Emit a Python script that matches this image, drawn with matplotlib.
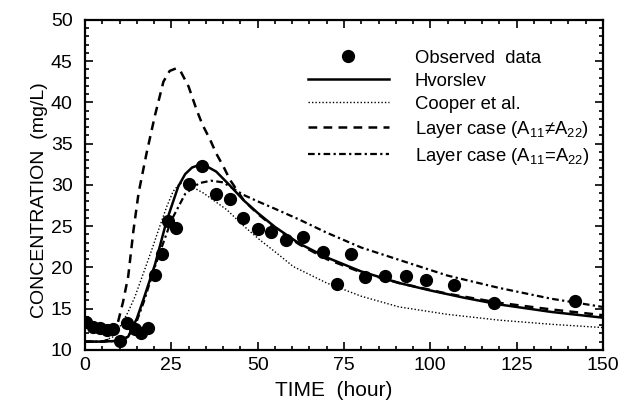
import matplotlib

matplotlib.use("Agg")
import matplotlib.pyplot as plt
from matplotlib.ticker import MultipleLocator

plt.rcParams["font.family"] = ["Liberation Sans", "DejaVu Sans"]
plt.rcParams["mathtext.fontset"] = "custom"
plt.rcParams["mathtext.rm"] = "Liberation Sans"
plt.rcParams["mathtext.it"] = "Liberation Sans"

# observed concentrations
obs_t = [0.3, 2.3, 4.3, 6.4, 8.1, 10.1, 12.1, 14.5, 16.2, 18.2,
         20.3, 22.2, 24.1, 26.2, 30.2, 34.0, 37.9, 42.0, 45.8, 50.0,
         54.0, 58.1, 63.0, 69.0, 72.9, 77.0, 81.1, 87.0, 93.1, 98.9,
         106.9, 118.5, 141.9]
obs_c = [13.4, 12.8, 12.7, 12.4, 12.5, 11.1, 13.2, 12.5, 12.1, 12.7,
         19.1, 21.6, 25.6, 24.8, 30.1, 32.3, 28.9, 28.3, 26.0, 24.7,
         24.3, 23.3, 23.7, 21.8, 18.0, 21.6, 18.8, 18.9, 18.9, 18.5,
         17.9, 15.7, 15.9]

# Hvorslev model
hv_t = [0, 5, 10, 12.5, 15, 16.9, 20.3, 23.6, 27, 29, 31, 33, 35, 38,
        42, 46, 50, 55, 62, 70, 80, 91, 100, 110, 120, 135, 150]
hv_c = [11, 11, 11.1, 11.6, 13.8, 16.1, 20.4, 25.6, 29.8, 31.3, 32.1, 32.4,
        32.3, 31.6, 29.9, 28.1, 26.6, 24.9, 22.9, 21.2, 19.5, 18.1, 17.2,
        16.3, 15.5, 14.6, 13.9]

# Cooper et al. model
co_t = [0, 5, 8.2, 10.1, 12.5, 14.5, 17, 19.3, 21.5, 23.7, 25.5, 27.5,
        30, 34.3, 41, 46, 50.7, 55, 60.3, 70, 80, 91, 105, 120, 135, 150]
co_c = [11, 11, 11.6, 12.8, 14.6, 16.5, 19.4, 22.1, 24.8, 27.4, 29.2, 30.2,
        30.0, 29.0, 27.0, 25.0, 23.3, 21.9, 20.1, 18.1, 16.5, 15.2, 14.3,
        13.6, 13.1, 12.7]

# layer case, A11 != A22
la_t = [0, 5, 7.5, 9.2, 11, 12.5, 14, 15.5, 17.8, 20.3, 22.7, 24.5, 26.3,
        27.5, 30, 32.3, 34, 36.2, 38, 40.1, 42, 43.9, 46, 50, 55, 62, 70,
        80, 91, 105, 120, 135, 150]
la_c = [11, 11, 11.3, 12.8, 15.8, 18.9, 24.4, 29.0, 33.8, 38.5, 42.5, 43.8,
        44.1, 43.9, 41.9, 39.1, 37.3, 35.5, 33.8, 32.2, 30.6, 29.4, 28.1,
        26.5, 24.8, 22.8, 21.0, 19.4, 18.1, 16.8, 15.7, 14.9, 14.2]

# layer case, A11 = A22
lb_t = [0, 5, 10, 12.5, 15, 17, 20, 22, 25, 29, 33, 36.5, 40, 45.8, 50,
        55, 62, 70, 80, 91, 105, 120, 135, 150]
lb_c = [11, 11, 11.1, 11.6, 13.5, 15.8, 19.8, 22.2, 25.7, 28.9, 30.2, 30.5,
        30.3, 28.8, 28.0, 27.1, 25.8, 24.2, 22.4, 20.9, 19.0, 17.5, 16.2, 15.2]

fig = plt.figure(figsize=(6.3, 4.04), dpi=100)
ax = fig.add_axes([0.135, 0.134, 0.822, 0.817])

ax.plot(obs_t, obs_c, "o", color="black", markersize=8.5,
        label="Observed  data", zorder=5)
ax.plot(hv_t, hv_c, "-", color="black", linewidth=1.8, label="Hvorslev")
ax.plot(co_t, co_c, color="black", linestyle=(0, (1, 1.5)), linewidth=1.0,
        label="Cooper et al.")
ax.plot(la_t, la_c, color="black", linestyle=(0, (3.5, 2.5)), linewidth=1.8,
        label="Layer case (A$_{11}$≠A$_{22}$)")
ax.plot(lb_t, lb_c, color="black", linestyle=(0, (3, 1.5, 1, 1.5)),
        linewidth=1.6, label="Layer case (A$_{11}$=A$_{22}$)")

ax.set_xlim(0, 150)
ax.set_ylim(10, 50)
ax.xaxis.set_major_locator(MultipleLocator(25))
ax.xaxis.set_minor_locator(MultipleLocator(5))
ax.yaxis.set_major_locator(MultipleLocator(5))
ax.yaxis.set_minor_locator(MultipleLocator(1))
ax.tick_params(which="both", direction="in", top=True, right=True,
               labelsize=14, width=1.2)
ax.tick_params(which="major", length=6)
ax.tick_params(which="minor", length=3)
ax.tick_params(axis="x", which="major", pad=5)
ax.tick_params(axis="y", which="major", pad=9)
for spine in ax.spines.values():
    spine.set_linewidth(1.6)

ax.set_xlabel("TIME  (hour)", fontsize=15)
ax.xaxis.set_label_coords(0.48, -0.095)
ax.set_ylabel("CONCENTRATION  (mg/L)", fontsize=14)
ax.yaxis.set_label_coords(-0.072, 0.455)

ax.legend(loc="upper left", bbox_to_anchor=(0.43, 0.91), frameon=False,
          fontsize=13.3, handlelength=4.4, handletextpad=1.4,
          labelspacing=0.33, borderpad=0, borderaxespad=0)

fig.savefig("out.png", dpi=100)
plt.close(fig)
